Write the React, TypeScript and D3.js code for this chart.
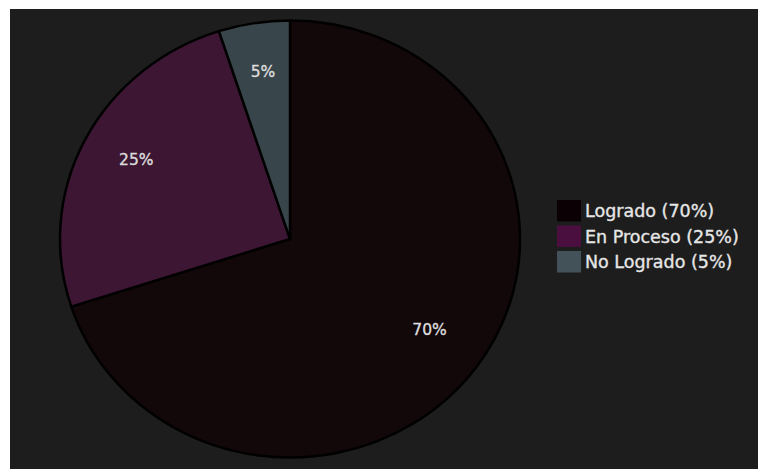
import React from "react";
import * as d3 from "d3";

const categories = ["Logrado", "En Proceso", "No Logrado"];
const values = [70, 25, 5];
const sliceColors = ["#120709", "#3d1633", "#38464b"];
const swatchColors = ["#0b0004", "#4a0f3e", "#435258"];

const W = 758;
const H = 461;
// svg origin sits at page (8,8)
const cx = 282;
const cy = 231;
const R = 230;
const yScale = 0.95;

export default function App() {
  const total = d3.sum(values);
  const pie = d3.pie<number>().sort(null).value((d) => d)(values);
  const arc = d3.arc<d3.PieArcDatum<number>>().innerRadius(0).outerRadius(R);
  const labelArc = d3
    .arc<d3.PieArcDatum<number>>()
    .innerRadius(R * 0.75)
    .outerRadius(R * 0.75);

  return (
    <svg width={W} height={H} style={{ display: "block" }}>
      <rect x={2} y={1} width={W - 2} height={H - 1} fill="#1d1d1d" />
      <g transform={`translate(${cx},${cy}) scale(1,${yScale})`}>
        {pie.map((p, i) => (
          <path
            key={i}
            d={arc(p) || ""}
            fill={sliceColors[i]}
            stroke="#000"
            strokeWidth={2.5}
            strokeLinejoin="round"
          />
        ))}
      </g>
      <g transform={`translate(${cx},${cy})`}>
        {pie.map((p, i) => {
          const [x, y] = labelArc.centroid(p);
          return (
            <text
              key={i}
              x={x}
              y={y * yScale}
              textAnchor="middle"
              fill="#dcdcdc"
              stroke="#dcdcdc"
              strokeWidth={0.35}
              fontFamily="'DejaVu Sans', sans-serif"
              fontSize={15.5}
            >
              {`${Math.round((values[i] / total) * 100)}%`}
            </text>
          );
        })}
      </g>
      <g transform="translate(549,192)">
        {categories.map((c, i) => (
          <g key={c} transform={`translate(0,${i * 25.5})`}>
            <rect x={0} y={0} width={24} height={21.5} fill={swatchColors[i]} />
            <text
              x={28}
              y={17}
              fill="#e6e6e6"
              stroke="#e6e6e6"
              strokeWidth={0.35}
              fontFamily="'DejaVu Sans', sans-serif"
              fontSize={17.5}
            >
              {`${c} (${Math.round((values[i] / total) * 100)}%)`}
            </text>
          </g>
        ))}
      </g>
    </svg>
  );
}
